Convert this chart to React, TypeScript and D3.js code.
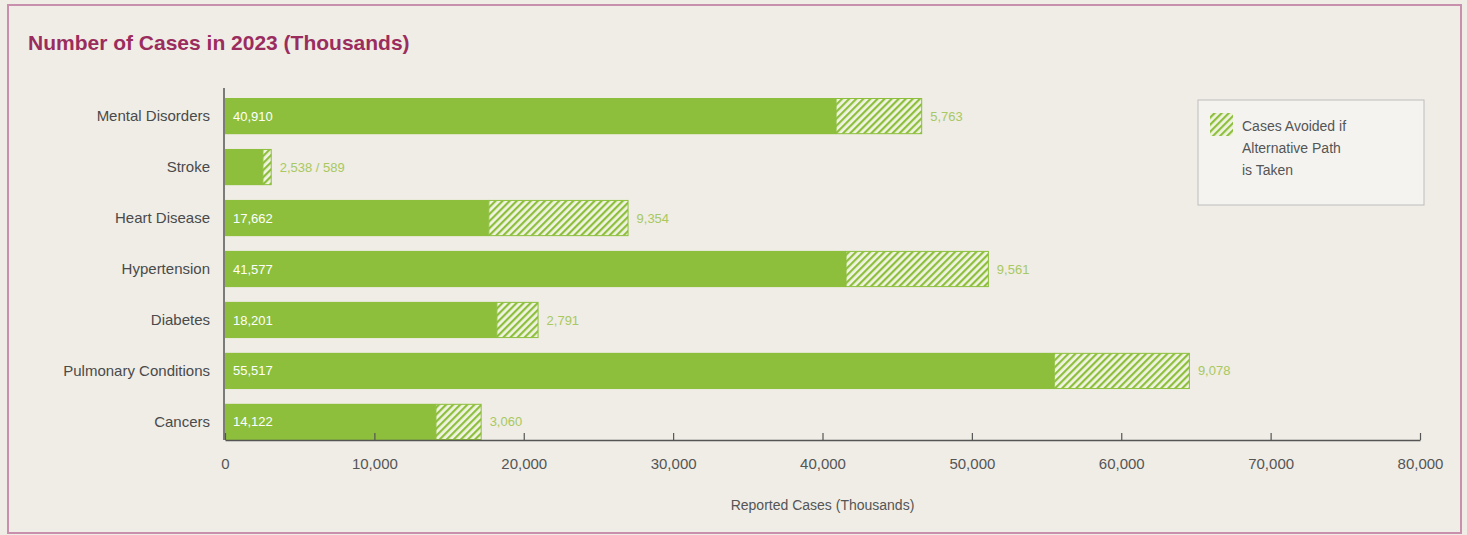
import { useEffect, useRef } from "react";
import * as d3 from "d3";

const width = 1467;
const height = 535;
const margin = { top: 98, right: 47, bottom: 95, left: 225 };

const categories = [
  "Mental Disorders",
  "Stroke",
  "Heart Disease",
  "Hypertension",
  "Diabetes",
  "Pulmonary Conditions",
  "Cancers",
];
const reportedCases = [40910, 2538, 17662, 41577, 18201, 55517, 14122];
const avoidedCases = [5763, 589, 9354, 9561, 2791, 9078, 3060];
const xTicks = [0, 10000, 20000, 30000, 40000, 50000, 60000, 70000, 80000];

const green = "#8dbf3c";
const font = "'Liberation Sans', Arial, sans-serif";

type Row = { name: string; reported: number; avoided: number };

export default function App() {
  const svgRef = useRef<SVGSVGElement | null>(null);

  useEffect(() => {
    if (!svgRef.current) return;
    const svg = d3.select(svgRef.current);
    svg.selectAll("*").remove();

    const data: Row[] = categories.map((name, i) => ({
      name,
      reported: reportedCases[i],
      avoided: avoidedCases[i],
    }));

    const axisY = height - margin.bottom;

    const x = d3
      .scaleLinear()
      .domain([0, 80000])
      .range([margin.left, width - margin.right]);

    const y = d3
      .scaleBand()
      .domain(categories)
      .range([margin.top, axisY])
      .paddingInner(0.29)
      .paddingOuter(0);

    // background + frame
    svg.append("rect").attr("width", width).attr("height", height).attr("fill", "#efede6");
    svg
      .append("rect")
      .attr("x", 8)
      .attr("y", 5)
      .attr("width", 1453)
      .attr("height", 528)
      .attr("fill", "#efede6")
      .attr("stroke", "#c990ad")
      .attr("stroke-width", 2);

    // hatch pattern
    const defs = svg.append("defs");
    const pat = defs
      .append("pattern")
      .attr("id", "hatch")
      .attr("patternUnits", "userSpaceOnUse")
      .attr("width", 5)
      .attr("height", 5)
      .attr("patternTransform", "rotate(45)");
    pat.append("rect").attr("width", 5).attr("height", 5).attr("fill", "#f1f4e2");
    pat.append("rect").attr("width", 2.2).attr("height", 5).attr("fill", green);

    // title
    svg
      .append("text")
      .attr("x", 28)
      .attr("y", 50)
      .attr("fill", "#9b2d5e")
      .style("font-family", font)
      .style("font-size", "21px")
      .style("font-weight", "600")
      .text("Number of Cases in 2023 (Thousands)");

    // bars
    const rows = svg
      .append("g")
      .selectAll("g")
      .data(data)
      .join("g")
      .attr("transform", (d) => `translate(0, ${y(d.name)})`);

    rows
      .append("rect")
      .attr("x", x(0))
      .attr("width", (d) => x(d.reported) - x(0))
      .attr("height", y.bandwidth())
      .attr("fill", green);

    rows
      .append("rect")
      .attr("x", (d) => x(d.reported))
      .attr("y", 0.5)
      .attr("width", (d) => x(d.reported + d.avoided) - x(d.reported) - 0.5)
      .attr("height", y.bandwidth() - 1)
      .attr("fill", "url(#hatch)")
      .attr("stroke", green)
      .attr("stroke-width", 1);

    rows
      .filter((d) => d.name !== "Stroke")
      .append("text")
      .attr("x", x(0) + 8)
      .attr("y", y.bandwidth() / 2)
      .attr("dy", "0.35em")
      .attr("fill", "#ffffff")
      .style("font-family", font)
      .style("font-size", "13px")
      .text((d) => d3.format(",")(d.reported));

    rows
      .append("text")
      .attr("x", (d) => x(d.reported + d.avoided) + 8)
      .attr("y", y.bandwidth() / 2)
      .attr("dy", "0.35em")
      .attr("fill", "#a9c85f")
      .style("font-family", font)
      .style("font-size", "13px")
      .text((d) =>
        d.name === "Stroke"
          ? `${d3.format(",")(d.reported)} / ${d3.format(",")(d.avoided)}`
          : d3.format(",")(d.avoided),
      );

    // category labels
    svg
      .append("g")
      .selectAll("text")
      .data(categories)
      .join("text")
      .attr("x", 210)
      .attr("y", (d) => (y(d) ?? 0) + y.bandwidth() / 2)
      .attr("dy", "0.35em")
      .attr("text-anchor", "end")
      .attr("fill", "#4a4a4a")
      .style("font-family", font)
      .style("font-size", "15px")
      .text((d) => d);

    // axes
    svg
      .append("line")
      .attr("x1", x(0) - 1)
      .attr("x2", x(0) - 1)
      .attr("y1", 88)
      .attr("y2", axisY)
      .attr("stroke", "#555")
      .attr("stroke-width", 1.5);

    const xAxis = svg
      .append("g")
      .attr("transform", `translate(0, ${axisY})`)
      .call(
        d3
          .axisBottom(x)
          .tickValues(xTicks)
          .tickSize(-7)
          .tickSizeOuter(0)
          .tickPadding(18)
          .tickFormat((d) => d3.format(",")(d as number)),
      );
    xAxis.select(".domain").attr("stroke", "#555").attr("stroke-width", 1.5);
    xAxis.selectAll(".tick line").attr("stroke", "#555").attr("stroke-width", 1.2);
    xAxis
      .selectAll(".tick text")
      .attr("fill", "#555")
      .style("font-family", font)
      .style("font-size", "15px");

    svg
      .append("text")
      .attr("x", (x(0) + x(80000)) / 2)
      .attr("y", 510)
      .attr("text-anchor", "middle")
      .attr("fill", "#555")
      .style("font-family", font)
      .style("font-size", "14px")
      .text("Reported Cases (Thousands)");

    // legend
    const legend = svg.append("g").attr("transform", "translate(1198, 100)");
    legend
      .append("rect")
      .attr("width", 226)
      .attr("height", 105)
      .attr("fill", "#f4f3ef")
      .attr("stroke", "#bdbdbd");
    legend
      .append("rect")
      .attr("x", 12)
      .attr("y", 13)
      .attr("width", 23)
      .attr("height", 23)
      .attr("fill", "url(#hatch)");
    legend
      .selectAll("text")
      .data(["Cases Avoided if", "Alternative Path", "is Taken"])
      .join("text")
      .attr("x", 44)
      .attr("y", (_, i) => 31 + i * 22)
      .attr("fill", "#555")
      .style("font-family", font)
      .style("font-size", "14px")
      .text((d) => d);
  }, []);

  return (
    <svg
      ref={svgRef}
      width={width}
      height={height}
      style={{ position: "absolute", left: 0, top: 0, display: "block" }}
    />
  );
}
